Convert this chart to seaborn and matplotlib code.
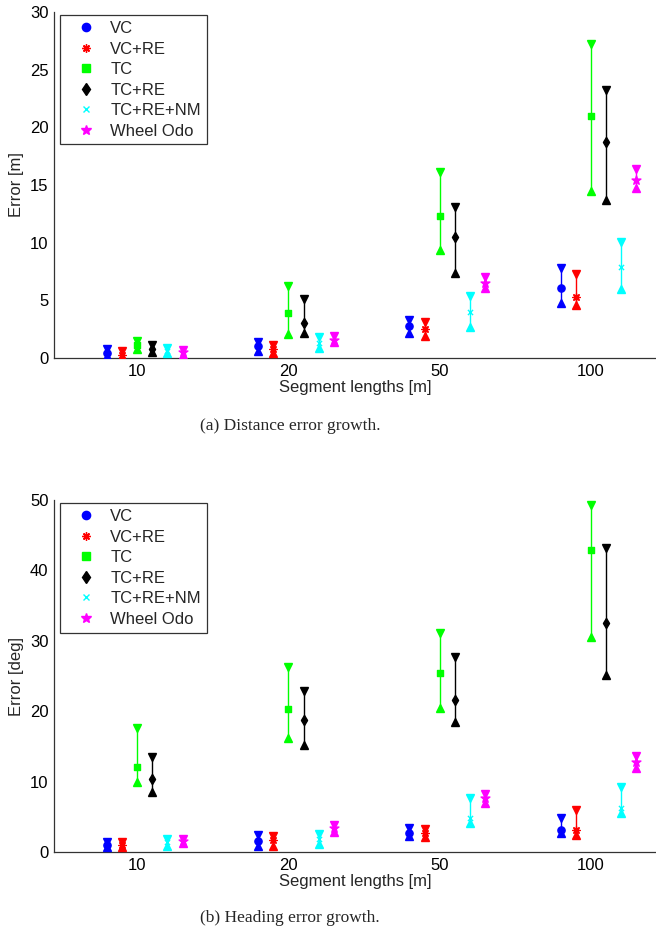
import numpy as np
import pandas as pd
import matplotlib
matplotlib.use("Agg")
import matplotlib.pyplot as plt
import seaborn as sns
from matplotlib.lines import Line2D

categories = ['10', '20', '50', '100']
methods = ['VC', 'VC+RE', 'TC', 'TC+RE', 'TC+RE+NM', 'Wheel Odo']

# distance error [m], rows = methods, cols = segment lengths
dist_mean = [[0.45, 1.0, 2.8, 6.1],
             [0.3, 0.8, 2.5, 5.3],
             [1.1, 3.9, 12.3, 21.0],
             [0.8, 3.0, 10.5, 18.7],
             [0.6, 1.3, 4.0, 7.9],
             [0.5, 1.6, 6.5, 15.4]]
dist_low = [[0.2, 0.6, 2.2, 4.8],
            [0.05, 0.4, 1.9, 4.6],
            [0.8, 2.1, 9.4, 14.5],
            [0.5, 2.2, 7.4, 13.7],
            [0.4, 0.9, 2.7, 6.0],
            [0.3, 1.4, 6.1, 14.7]]
dist_high = [[0.75, 1.4, 3.3, 7.8],
             [0.6, 1.1, 3.1, 7.3],
             [1.5, 6.2, 16.1, 27.2],
             [1.1, 5.1, 13.1, 23.2],
             [0.85, 1.8, 5.4, 10.1],
             [0.7, 1.9, 7.0, 16.4]]

# heading error [deg]
head_mean = [[1.0, 1.6, 2.7, 3.1],
             [1.0, 1.7, 2.7, 3.1],
             [12.1, 20.3, 25.4, 42.9],
             [10.4, 18.7, 21.6, 32.5],
             [1.4, 1.8, 4.8, 6.2],
             [1.6, 3.4, 7.6, 12.8]]
head_low = [[0.7, 0.9, 2.3, 2.7],
            [0.7, 0.8, 2.1, 2.4],
            [10.0, 16.2, 20.4, 30.6],
            [8.5, 15.2, 18.5, 25.2],
            [0.9, 1.1, 4.1, 5.5],
            [1.3, 2.9, 7.0, 11.9]]
head_high = [[1.4, 2.4, 3.4, 4.8],
             [1.4, 2.3, 3.2, 5.9],
             [17.6, 26.3, 31.1, 49.3],
             [13.5, 22.9, 27.7, 43.2],
             [1.9, 2.6, 7.6, 9.3],
             [1.9, 3.9, 8.2, 13.6]]

colors = {'VC': '#0000ff', 'VC+RE': '#ff0000', 'TC': '#00ff00',
          'TC+RE': '#000000', 'TC+RE+NM': '#00ffff', 'Wheel Odo': '#ff00ff'}
markers = {'VC': 'o', 'VC+RE': (8, 2, 0), 'TC': 's',
           'TC+RE': 'd', 'TC+RE+NM': 'x', 'Wheel Odo': '*'}
sizes = {'VC': 7, 'VC+RE': 7, 'TC': 6, 'TC+RE': 7, 'TC+RE+NM': 5, 'Wheel Odo': 9}
offsets = [-0.2, -0.1, 0.0, 0.1, 0.2, 0.3]

sns.set_style("white")
plt.rcParams['font.family'] = ['Liberation Sans', 'DejaVu Sans']


def make_df(mean, low, high):
    rows = []
    for i, m in enumerate(methods):
        for j, c in enumerate(categories):
            rows.append({'method': m, 'x': j + 1 + offsets[i],
                         'mean': mean[i][j], 'low': low[i][j], 'high': high[i][j]})
    return pd.DataFrame(rows)


def draw_panel(ax, df, ylim, yticks, ylabel):
    for m in methods:
        d = df[df.method == m]
        c = colors[m]
        ax.vlines(d.x, d.low, d.high, color=c, lw=1.0, zorder=2)
        ax.plot(d.x, d.high, 'v', color=c, ms=5.8, mec=c, zorder=3)
        ax.plot(d.x, d.low, '^', color=c, ms=5.8, mec=c, zorder=3)
    for m in methods:
        d = df[df.method == m]
        sns.scatterplot(data=d, x='x', y='mean', ax=ax, color=colors[m],
                        marker=markers[m], s=sizes[m] ** 2 * 0.55,
                        edgecolor=colors[m], linewidth=1.0, legend=False, zorder=4)
    ax.set_xlim(0.45, 4.43)
    ax.set_ylim(*ylim)
    ax.set_xticks(range(1, 5))
    ax.set_xticklabels(categories)
    ax.set_yticks(yticks)
    ax.tick_params(direction='in', length=4, width=0.8, labelsize=12, pad=4,
                   colors='black')
    ax.set_xlabel('Segment lengths [m]', fontsize=12, labelpad=1)
    ax.set_ylabel(ylabel, fontsize=12, labelpad=4)
    sns.despine(ax=ax, top=True, right=True)
    for s in ['left', 'bottom']:
        ax.spines[s].set_color('#333333')
        ax.spines[s].set_linewidth(0.9)
    handles = [Line2D([], [], linestyle='none', marker=markers[m], color=colors[m],
                      mec=colors[m], ms=sizes[m] * 0.85, mew=1.0) for m in methods]
    leg = ax.legend(handles, methods, loc='upper left', fontsize=12,
                    frameon=True, fancybox=False, handlelength=2.4,
                    handletextpad=0.25, borderpad=0.35, labelspacing=0.33,
                    borderaxespad=0.2, bbox_to_anchor=(0.005, 1.0))
    leg.get_frame().set_edgecolor('black')
    leg.get_frame().set_linewidth(0.9)


fig = plt.figure(figsize=(6.56, 9.35), dpi=100)
ax1 = fig.add_axes([54 / 656, 1 - 358 / 935, 1 - 54 / 656, 346 / 935])
ax2 = fig.add_axes([54 / 656, 1 - 852 / 935, 1 - 54 / 656, 352 / 935])

draw_panel(ax1, make_df(dist_mean, dist_low, dist_high), (0, 30),
           range(0, 31, 5), 'Error [m]')
draw_panel(ax2, make_df(head_mean, head_low, head_high), (0, 50),
           range(0, 51, 10), 'Error [deg]')

fig.text(290 / 656, 1 - 426 / 935, '(a) Distance error growth.', ha='center',
         va='center', fontsize=12.5, family=['Liberation Serif', 'DejaVu Serif'])
fig.text(290 / 656, 1 - 918 / 935, '(b) Heading error growth.', ha='center',
         va='center', fontsize=12.5, family=['Liberation Serif', 'DejaVu Serif'])

fig.savefig('out.png', dpi=100)
